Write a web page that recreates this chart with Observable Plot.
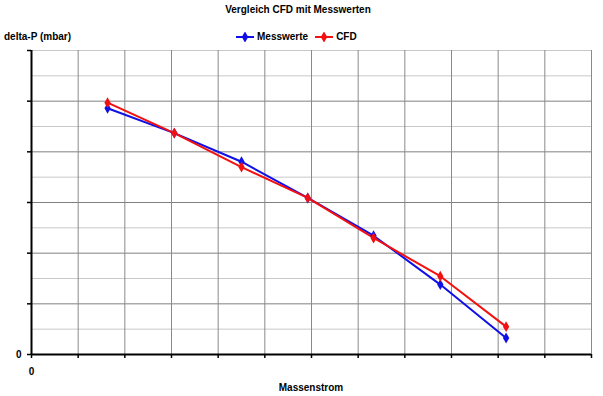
<!DOCTYPE html>
<html>
<head>
<meta charset="utf-8">
<script src="https://cdn.jsdelivr.net/npm/d3@7"></script>
<script src="https://cdn.jsdelivr.net/npm/@observablehq/plot@0.6"></script>
<style>
  html, body { margin: 0; padding: 0; background: #fff; }
  #wrap { position: relative; width: 603px; height: 396px; font-family: "Liberation Sans", Arial, sans-serif; font-weight: bold; font-size: 10px; color: #000; }
  #wrap svg { position: absolute; left: 0; top: 0; }
  .lab { position: absolute; white-space: nowrap; line-height: 12px; }
  #legend { position: absolute; left: 235px; top: 31px; display: flex; align-items: center; }
  #legend .item { display: flex; align-items: center; margin-right: 6px; }
  #legend svg { position: static; }
</style>
</head>
<body>
<div id="wrap">
  <div class="lab" style="left:0;top:4px;width:596px;text-align:center;">Vergleich CFD mit Messwerten</div>
  <div class="lab" style="left:4px;top:31px;">delta-P (mbar)</div>
  <div id="legend"></div>
  <div class="lab" style="left:0;top:382px;width:622px;text-align:center;">Massenstrom</div>
</div>
<script>
// Data (grid units: x columns, y minor grid steps)
const massenstrom = [1.63, 3.06, 4.5, 5.92, 7.33, 8.76, 10.17];
const messwerte   = [9.72, 8.74, 7.61, 6.18, 4.69, 2.76, 0.65];
const cfd         = [9.94, 8.74, 7.40, 6.18, 4.60, 3.09, 1.10];
const seriesNames = ["Messwerte", "CFD"];
const seriesColors = ["#1010e6", "#f21010"];
const xTicks = d3.range(0, 13, 1);
const yMajor = d3.range(0, 13, 2);
const yMinor = d3.range(1, 12, 2);

const rows = [];
massenstrom.forEach((x, i) => {
  rows.push({series: seriesNames[0], x, y: messwerte[i]});
  rows.push({series: seriesNames[1], x, y: cfd[i]});
});

const chart = Plot.plot({
  width: 603,
  height: 396,
  marginLeft: 31,
  marginRight: 12,
  marginTop: 50,
  marginBottom: 42,
  style: {background: "transparent", fontFamily: "Liberation Sans, Arial, sans-serif", fontWeight: "bold", fontSize: "10px", color: "#000"},
  x: {domain: [0, 12], axis: null, label: null},
  y: {domain: [0, 12], axis: null, label: null},
  color: {domain: seriesNames, range: seriesColors},
  marks: [
    Plot.ruleY(yMinor, {stroke: "#c8c8c8", strokeWidth: 1}),
    Plot.ruleY([12], {stroke: "#c8c8c8", strokeWidth: 1}),
    Plot.ruleY(yMajor.filter(d => d > 0 && d < 12), {stroke: "#808080", strokeWidth: 1}),
    Plot.ruleX(xTicks.filter(d => d > 0), {stroke: "#8a8a8a", strokeWidth: 1}),
    Plot.axisX({ticks: xTicks, tickSize: 4, tickFormat: () => "", label: null, stroke: "#000", strokeWidth: 1.5}),
    Plot.axisX({ticks: [0], tickSize: 0, tickPadding: 13, tickFormat: d => String(d), label: null, fontWeight: "bold", fontSize: 10}),
    Plot.axisY({ticks: yMajor, tickSize: 4, tickPadding: 6, tickFormat: d => d === 0 ? "0" : "", label: null, stroke: "#000", strokeWidth: 1.5, fontWeight: "bold", fontSize: 10}),
    Plot.ruleX([0], {stroke: "#000", strokeWidth: 2}),
    Plot.ruleY([0], {stroke: "#000", strokeWidth: 2}),
    Plot.line(rows, {x: "x", y: "y", z: "series", stroke: "series", strokeWidth: 2}),
    Plot.dot(rows, {x: "x", y: "y", fill: "series", symbol: "diamond", r: 3.3, stroke: null})
  ]
});
document.getElementById("wrap").prepend(chart);

// Legend
const legend = d3.select("#legend");
seriesNames.forEach((name, i) => {
  const item = legend.append("div").attr("class", "item");
  const s = item.append("svg").attr("width", 20).attr("height", 10);
  s.append("line").attr("x1", 1).attr("x2", 19).attr("y1", 5).attr("y2", 5)
    .attr("stroke", seriesColors[i]).attr("stroke-width", 2);
  s.append("path").attr("d", d3.symbol(d3.symbolDiamond, 36)()).attr("transform", "translate(10,5)")
    .attr("fill", seriesColors[i]);
  item.append("span").style("margin-left", "2px").text(name);
});
</script>
</body>
</html>
